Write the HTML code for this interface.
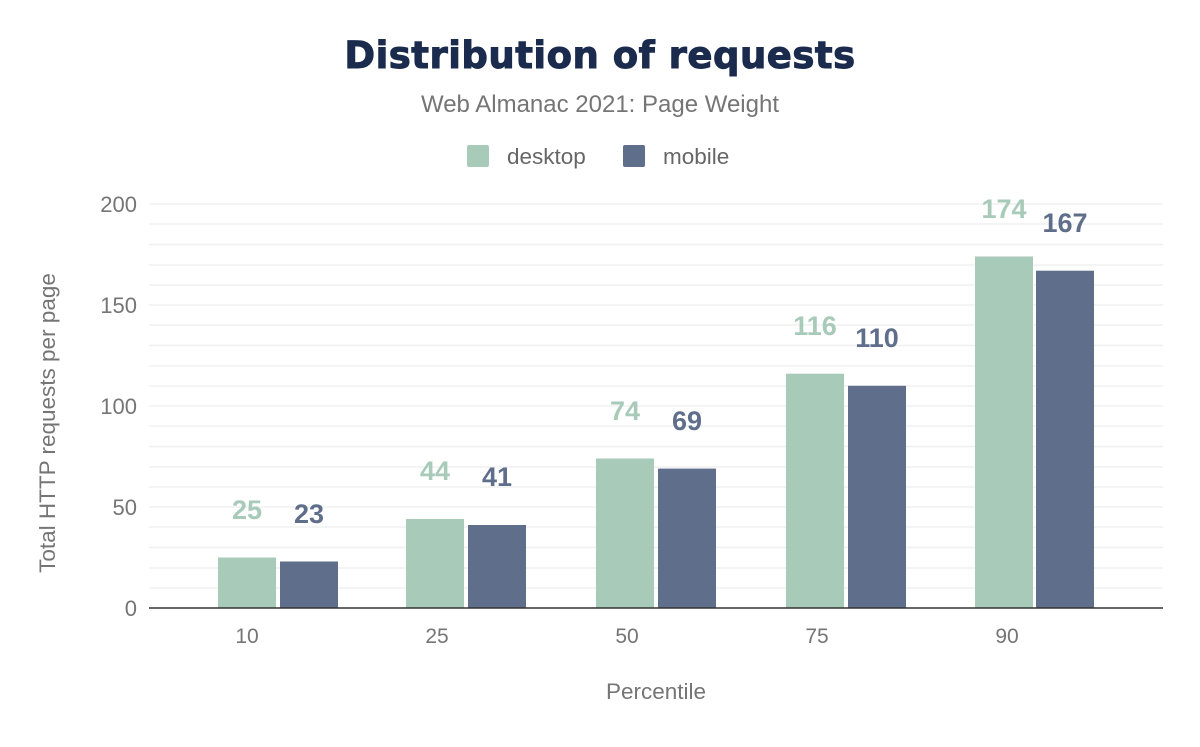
<!DOCTYPE html>
<html><head><meta charset="utf-8"><style>
body{margin:0;background:#fff;}
svg text{font-family:"Liberation Sans",sans-serif;}
</style></head><body>
<svg width="1200" height="742" viewBox="0 0 1200 742" xmlns="http://www.w3.org/2000/svg">
<rect width="1200" height="742" fill="#fff"/>
<text x="600" y="68" text-anchor="middle" font-size="37" font-weight="900" fill="#1a2b4d" stroke="#1a2b4d" stroke-width="1" style="font-family:'DejaVu Sans','Liberation Sans',sans-serif;letter-spacing:0.5px">Distribution of requests</text>
<text x="600" y="112" text-anchor="middle" font-size="24" fill="#757575">Web Almanac 2021: Page Weight</text>
<rect x="467" y="145" width="22" height="22" rx="2" fill="#a8cab9"/>
<text x="507" y="164" font-size="22.5" fill="#666">desktop</text>
<rect x="623" y="145" width="22" height="22" rx="2" fill="#5f6e8a"/>
<text x="663" y="164" font-size="22.5" fill="#666">mobile</text>
<g stroke="#f0f0f0" stroke-width="1.5">
<line x1="149" x2="1163" y1="204" y2="204"/><line x1="149" x2="1163" y1="224" y2="224"/><line x1="149" x2="1163" y1="244.5" y2="244.5"/><line x1="149" x2="1163" y1="265" y2="265"/><line x1="149" x2="1163" y1="285" y2="285"/><line x1="149" x2="1163" y1="305" y2="305"/><line x1="149" x2="1163" y1="325" y2="325"/><line x1="149" x2="1163" y1="345.5" y2="345.5"/><line x1="149" x2="1163" y1="366" y2="366"/><line x1="149" x2="1163" y1="386" y2="386"/><line x1="149" x2="1163" y1="406" y2="406"/><line x1="149" x2="1163" y1="426" y2="426"/><line x1="149" x2="1163" y1="446.5" y2="446.5"/><line x1="149" x2="1163" y1="467" y2="467"/><line x1="149" x2="1163" y1="487" y2="487"/><line x1="149" x2="1163" y1="507" y2="507"/><line x1="149" x2="1163" y1="527" y2="527"/><line x1="149" x2="1163" y1="547.5" y2="547.5"/><line x1="149" x2="1163" y1="568" y2="568"/><line x1="149" x2="1163" y1="588" y2="588"/>
</g>
<g font-size="22" fill="#757575" text-anchor="end">
<text x="137" y="212">200</text><text x="137" y="313">150</text><text x="137" y="414">100</text><text x="137" y="515">50</text><text x="137" y="616">0</text>
</g>
<g fill="#a8cab9">
<rect x="218" y="557.5" width="58" height="50.5"/><rect x="406" y="519" width="58" height="89"/><rect x="596" y="458.5" width="58" height="149.5"/><rect x="786" y="373.7" width="58" height="234.3"/><rect x="975" y="256.5" width="58" height="351.5"/>
</g>
<g fill="#5f6e8a">
<rect x="280" y="561.5" width="58" height="46.5"/><rect x="468" y="525" width="58" height="83"/><rect x="658" y="468.6" width="58" height="139.4"/><rect x="848" y="385.8" width="58" height="222.2"/><rect x="1036" y="270.7" width="58" height="337.3"/>
</g>
<line x1="149" x2="1163" y1="608" y2="608" stroke="#333" stroke-width="1.5"/>
<g font-size="27" font-weight="bold" text-anchor="middle">
<g fill="#a8cab9"><text x="247" y="519">25</text><text x="435" y="480">44</text><text x="625" y="420">74</text><text x="815" y="335">116</text><text x="1004" y="218">174</text></g>
<g fill="#5f6e8a"><text x="309" y="523">23</text><text x="497" y="486">41</text><text x="687" y="430">69</text><text x="877" y="347">110</text><text x="1065" y="232">167</text></g>
</g>
<g font-size="21" fill="#757575" text-anchor="middle">
<text x="247" y="643">10</text><text x="437" y="643">25</text><text x="627" y="643">50</text><text x="817" y="643">75</text><text x="1007" y="643">90</text>
</g>
<text x="656" y="699" text-anchor="middle" font-size="22.5" fill="#757575">Percentile</text>
<text transform="translate(55,423) rotate(-90)" text-anchor="middle" font-size="22.5" fill="#757575">Total HTTP requests per page</text>
</svg>
</body></html>
